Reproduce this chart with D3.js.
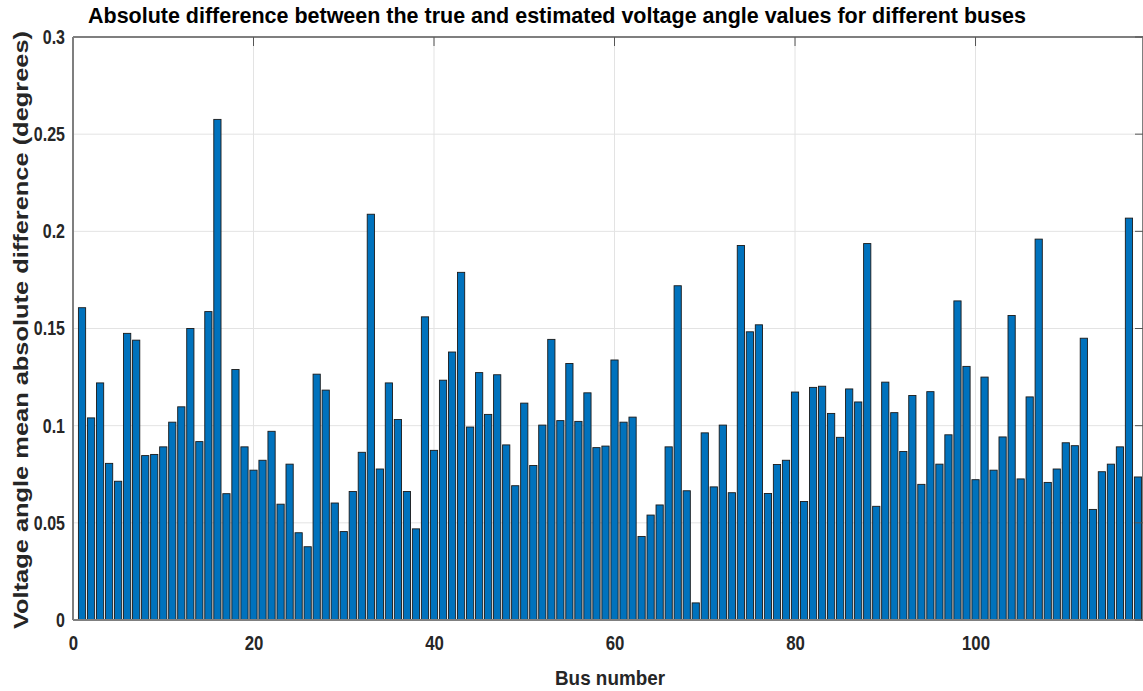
<!DOCTYPE html>
<html><head><meta charset="utf-8">
<script src="https://cdn.jsdelivr.net/npm/d3@7"></script>
<style>body{margin:0;background:#fff;}svg{display:block;}</style>
</head><body>
<svg id="c" width="1143" height="691"></svg>
<script>
const buses = d3.range(1, 119);
const values = [
0.1607,0.1040,0.1220,0.0806,0.0714,0.1475,0.1440,0.0846,0.0852,0.0891,
0.1018,0.1097,0.1500,0.0918,0.1587,0.2576,0.0650,0.1289,0.0891,0.0771,
0.0822,0.0971,0.0596,0.0802,0.0449,0.0377,0.1265,0.1183,0.0602,0.0455,
0.0661,0.0863,0.2088,0.0777,0.1220,0.1032,0.0661,0.0469,0.1560,0.0873,
0.1234,0.1379,0.1789,0.0993,0.1273,0.1058,0.1262,0.0901,0.0691,0.1116,
0.0795,0.1003,0.1444,0.1026,0.1320,0.1022,0.1169,0.0887,0.0895,0.1338,
0.1018,0.1044,0.0430,0.0540,0.0592,0.0891,0.1720,0.0665,0.0088,0.0963,
0.0685,0.1003,0.0655,0.1927,0.1483,0.1519,0.0651,0.0800,0.0822,0.1173,
0.0610,0.1197,0.1203,0.1063,0.0940,0.1189,0.1122,0.1937,0.0585,0.1224,
0.1067,0.0867,0.1155,0.0698,0.1175,0.0802,0.0953,0.1642,0.1305,0.0722,
0.1250,0.0771,0.0942,0.1567,0.0726,0.1148,0.1960,0.0708,0.0777,0.0912,
0.0897,0.1450,0.0569,0.0763,0.0802,0.0891,0.2068,0.0736];
const xTicks = [0, 20, 40, 60, 80, 100];
const yTicks = [0, 0.05, 0.1, 0.15, 0.2, 0.25, 0.3];
const yTickLabels = ["0", "0.05", "0.1", "0.15", "0.2", "0.25", "0.3"];
const titleText = "Absolute difference between the true and estimated voltage angle values for different buses";
const xLabel = "Bus number";
const yLabel = "Voltage angle mean absolute difference (degrees)";

const svg = d3.select("#c");
const L = 73, T = 37, B = 620, R = 1147;
const x = d3.scaleLinear().domain([0, 119]).range([L, R]);
const y = d3.scaleLinear().domain([0, 0.3]).range([B, T]);
const font = "'Liberation Sans',Arial,sans-serif";

function condense(sel, f) {
  sel.each(function () {
    const w = this.getComputedTextLength();
    d3.select(this).attr("textLength", w * f).attr("lengthAdjust", "spacingAndGlyphs");
  });
}

// grid
const g = svg.append("g");
g.selectAll(".gx").data(xTicks.slice(1)).enter().append("line")
  .attr("x1", d => x(d)).attr("x2", d => x(d)).attr("y1", T).attr("y2", B)
  .attr("stroke", "#e3e3e3").attr("stroke-width", 1);
g.selectAll(".gy").data(yTicks.slice(1, -1)).enter().append("line")
  .attr("x1", L).attr("x2", R).attr("y1", d => y(d)).attr("y2", d => y(d))
  .attr("stroke", "#e3e3e3").attr("stroke-width", 1);

// bars
const bw = (x(0.8) - x(0));
svg.append("g").selectAll("rect").data(buses).enter().append("rect")
  .attr("x", (d) => x(d) - bw / 2)
  .attr("y", (d, i) => y(values[i]))
  .attr("width", bw)
  .attr("height", (d, i) => y(0) - y(values[i]))
  .attr("fill", "#0072BD").attr("stroke", "#1a1a1a").attr("stroke-width", 0.9);

// frame
const frame = svg.append("g").attr("stroke", "#7f7f7f").attr("stroke-width", 2).attr("fill", "none");
frame.append("line").attr("x1", L).attr("x2", R).attr("y1", T).attr("y2", T);
frame.append("line").attr("x1", L).attr("x2", L).attr("y1", T).attr("y2", B);
frame.append("line").attr("x1", L).attr("x2", R).attr("y1", B).attr("y2", B);
frame.append("line").attr("x1", 1143).attr("x2", 1143).attr("y1", T).attr("y2", B);

// axes via d3
const xAxis = d3.axisBottom(x).tickValues(xTicks).tickSize(0).tickPadding(10).tickFormat(d3.format("d"));
const gx = svg.append("g").attr("transform", `translate(0,${B})`).call(xAxis);
gx.select(".domain").remove();
gx.selectAll("text").attr("font-family", font).attr("font-weight", "bold").attr("font-size", 21)
  .attr("fill", "#262626").attr("dy", null).attr("y", 30);
condense(gx.selectAll("text"), 0.8);

const yAxis = d3.axisLeft(y).tickValues(yTicks).tickSize(0).tickPadding(8).tickFormat((d, i) => yTickLabels[i]);
const gy = svg.append("g").attr("transform", `translate(${L},0)`).call(yAxis);
gy.select(".domain").remove();
gy.selectAll("text").attr("font-family", font).attr("font-weight", "bold").attr("font-size", 20)
  .attr("fill", "#262626").attr("x", -8);
condense(gy.selectAll("text"), 0.8);

// inner tick marks top and right
svg.append("g").selectAll("line").data(xTicks.slice(1)).enter().append("line")
  .attr("x1", d => x(d)).attr("x2", d => x(d)).attr("y1", T).attr("y2", T + 9)
  .attr("stroke", "#555").attr("stroke-width", 1);
svg.append("g").selectAll("line").data(yTicks).enter().append("line")
  .attr("x1", 1143).attr("x2", 1135).attr("y1", d => y(d)).attr("y2", d => y(d))
  .attr("stroke", "#555").attr("stroke-width", 1);

// title
svg.append("text").attr("x", 557).attr("y", 23).attr("text-anchor", "middle")
  .attr("font-family", font).attr("font-weight", "bold").attr("font-size", 22)
  .attr("fill", "#000").attr("textLength", 938).attr("lengthAdjust", "spacingAndGlyphs")
  .text(titleText);

// x label
svg.append("text").attr("x", 610).attr("y", 685).attr("text-anchor", "middle")
  .attr("font-family", font).attr("font-weight", "bold").attr("font-size", 21)
  .attr("fill", "#262626").attr("textLength", 110).attr("lengthAdjust", "spacingAndGlyphs")
  .text(xLabel);

// y label
svg.append("text").attr("transform", "translate(28,330) rotate(-90)").attr("text-anchor", "middle")
  .attr("font-family", font).attr("font-weight", "bold").attr("font-size", 20)
  .attr("fill", "#262626").attr("textLength", 598).attr("lengthAdjust", "spacingAndGlyphs")
  .text(yLabel);
</script>
</body></html>
